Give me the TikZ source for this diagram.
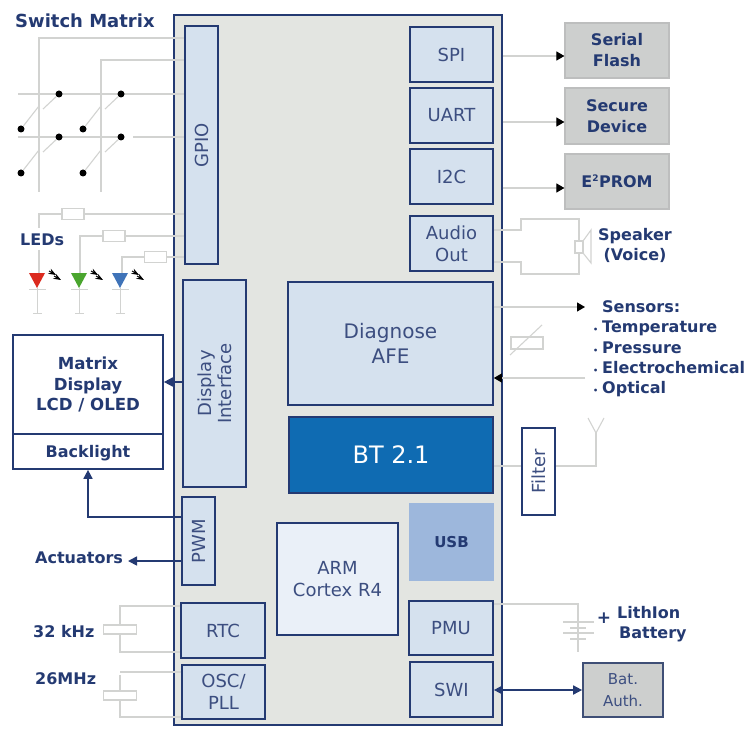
\documentclass[tikz,border=0pt]{standalone}
\usepackage{fontspec}
\setmainfont{DejaVu Sans}
\usetikzlibrary{arrows.meta,shapes}
\definecolor{navy}{HTML}{243A72}
\definecolor{blocktxt}{HTML}{3C4E80}
\definecolor{blockfill}{HTML}{D5E1EE}
\definecolor{chipfill}{HTML}{E3E5E1}
\definecolor{extfill}{HTML}{CDCFCE}
\definecolor{wiregray}{HTML}{D2D3D1}
\definecolor{ledred}{HTML}{DB2A1E}
\definecolor{ledgreen}{HTML}{4AA52E}
\definecolor{ledblue}{HTML}{3F73B8}
\tikzstyle{chip}=[rectangle,draw=navy,line width=1.5pt,fill=chipfill,inner sep=0pt]
\tikzstyle{block}=[rectangle,draw=navy,line width=1.7pt,fill=blockfill,text=blocktxt,inner sep=0pt,align=center,font=\fontsize{18}{22}\selectfont]
\tikzstyle{ext}=[rectangle,draw=extfill!92!black,line width=1.2pt,fill=extfill,text=navy,inner sep=0pt,align=center,font=\fontsize{16}{21}\selectfont\bfseries]
\tikzstyle{lbl}=[text=navy,inner sep=0pt,align=center,font=\fontsize{16}{20}\selectfont\bfseries]
\tikzstyle{wire}=[draw=wiregray,line width=1.1pt]
\tikzstyle{part}=[rectangle,draw=wiregray,line width=1.1pt,fill=white,inner sep=0pt]
\tikzstyle{swdot}=[circle,fill=black,inner sep=0pt,minimum size=7pt]
\tikzstyle{sig}=[draw=navy,line width=1.7pt,>={Triangle[length=9pt,width=9pt]}]
\tikzstyle{feed}=[-{Triangle[black,length=8pt,width=9pt]},draw=wiregray,line width=1.1pt]
\begin{document}
\begin{tikzpicture}[x=1pt,y=-1pt]
\useasboundingbox (0,0) rectangle (747,738);
\node[chip,minimum width=328,minimum height=710] (Chip) at (338,370) {};
\node[block,minimum width=33,minimum height=238] (GPIO) at (201.5,145) {\rotatebox{90}{GPIO}};
\node[block,minimum width=83,minimum height=55] (SPI) at (451.5,54.5) {SPI};
\node[block,minimum width=83,minimum height=55] (UART) at (451.5,115.5) {UART};
\node[block,minimum width=83,minimum height=55] (I2C) at (451.5,176.5) {I2C};
\node[block,minimum width=83,minimum height=55] (Audio) at (451.5,243.5) {Audio\\Out};
\node[block,minimum width=63,minimum height=207] (Disp) at (214.5,383.5) {\rotatebox{90}{\shortstack{Display\\Interface}}};
\node[block,minimum width=205,minimum height=123,font=\fontsize{20}{25}\selectfont] (AFE) at (390.5,343.5) {Diagnose\\AFE};
\node[block,minimum width=204,minimum height=76,fill={rgb,255:red,15;green,107;blue,178},text=white,font=\fontsize{24}{28}\selectfont] (BT) at (391,455) {BT 2.1};
\node[block,minimum width=33,minimum height=87,fill=white] (Filter) at (538.5,471.5) {\rotatebox{90}{Filter}};
\node[block,minimum width=33,minimum height=88] (PWM) at (198.5,541) {\rotatebox{90}{PWM}};
\node[block,minimum width=121,minimum height=112,fill={rgb,255:red,234;green,240;blue,248}] (ARM) at (337.5,579) {ARM\\Cortex R4};
\node[block,minimum width=83,minimum height=76,draw={rgb,255:red,157;green,183;blue,220},fill={rgb,255:red,157;green,183;blue,220},text=navy,font=\fontsize{15}{18}\selectfont\bfseries] (USB) at (451.5,542) {USB};
\node[block,minimum width=84,minimum height=55] (RTC) at (223,630.5) {RTC};
\node[block,minimum width=83,minimum height=54] (OSC) at (223.5,692) {OSC/\\PLL};
\node[block,minimum width=84,minimum height=54] (PMU) at (451,628) {PMU};
\node[block,minimum width=83,minimum height=55] (SWI) at (451.5,689.5) {SWI};
\node[block,minimum width=150,minimum height=99,fill=white,text=navy,font=\fontsize{16.6}{20.5}\selectfont\bfseries] (Matrix) at (88,384.5) {Matrix\\Display\\LCD / OLED};
\node[block,minimum width=150,minimum height=35,fill=white,text=navy,text depth=0pt,font=\fontsize{16}{20}\selectfont\bfseries] (Back) at (88,451.5) {Backlight};
\node[ext,minimum width=104,minimum height=55] (Flash) at (617,50.5) {Serial\\Flash};
\node[ext,minimum width=104,minimum height=56] (Secure) at (617,116) {Secure\\Device};
\node[ext,minimum width=104,minimum height=55] (Prom) at (617,181.5) {E\textsuperscript{\fontsize{9}{9}\selectfont 2}PROM};
\node[ext,draw=navy!70!gray,line width=1.7pt,minimum width=80,minimum height=54,text=blocktxt,font=\fontsize{15}{22}\selectfont] (Auth) at (623,690) {Bat.\\Auth.};
\node[lbl,anchor=west,font=\fontsize{18}{22}\selectfont\bfseries] (SwLbl) at (15,21) {Switch Matrix};
\node[lbl,anchor=west] (LedLbl) at (20,240) {LEDs};
\node[lbl,anchor=west] (ActLbl) at (35,558) {Actuators};
\node[lbl,anchor=west] (KhzLbl) at (33,632) {32 kHz};
\node[lbl,anchor=west] (MhzLbl) at (35,679) {26MHz};
\node[lbl] (SpkLbl) at (635,245.5) {Speaker\\(Voice)};
\node[lbl,anchor=base west] (SenLbl) at (602,312.5) {Sensors:};
\node[lbl,anchor=base west] (TempLbl) at (593,332.5) {\makebox[9pt][l]{\fontsize{8}{8}\selectfont\textbullet}Temperature};
\node[lbl,anchor=base west] (PresLbl) at (593,353) {\makebox[9pt][l]{\fontsize{8}{8}\selectfont\textbullet}Pressure};
\node[lbl,anchor=base west] (ElecLbl) at (593,373.5) {\makebox[9pt][l]{\fontsize{8}{8}\selectfont\textbullet}Electrochemical};
\node[lbl,anchor=base west] (OptLbl) at (593,393.5) {\makebox[9pt][l]{\fontsize{8}{8}\selectfont\textbullet}Optical};
\node[lbl,anchor=west] (LiLbl) at (617,613) {LithIon};
\node[lbl,anchor=west] (BatLbl) at (619,634) {Battery};
\node[lbl,font=\fontsize{17}{20}\selectfont\bfseries] (Plus) at (604,618) {+};
\coordinate (Ca) at (39,192);
\coordinate (Cb) at (101,192);
\coordinate (Ra) at (18,94);
\coordinate (Rb) at (18,137);
\coordinate (Sdg) at (121,137);
\draw[wire] (GPIO.west |- 0,38) -| (Ca);
\draw[wire] (GPIO.west |- 0,60) -| (Cb);
\draw[wire] (Ra) -- (GPIO.west |- Ra);
\draw[wire] (Rb) -- (Sdg);
\draw[wire] (133,137) -- (GPIO.west |- Rb);
\node[swdot] (Sa) at (59,94) {};
\node[swdot] (Sb) at (121,94) {};
\node[swdot] (Sc) at (59,137) {};
\node[swdot] (Sd) at (121,137) {};
\node[swdot] (Se) at (21,129) {};
\node[swdot] (Sf) at (83,129) {};
\node[swdot] (Sg) at (21,173) {};
\node[swdot] (Sh) at (83,173) {};
\draw[wire] (Se) -- (39,106);\draw[wire] (43,109) -- (Sa);
\draw[wire] (Sf) -- (101,106);\draw[wire] (105,109) -- (Sb);
\draw[wire] (Sg) -- (39,150);\draw[wire] (43,152) -- (Sc);
\draw[wire] (Sh) -- (101,150);\draw[wire] (105,152) -- (Sd);
\node[part,minimum width=22,minimum height=11] (Ri) at (73,214) {};
\node[part,minimum width=22,minimum height=11] (Rj) at (114,236) {};
\node[part,minimum width=22,minimum height=11] (Rk) at (155.5,257) {};
\draw[wire] (GPIO.west |- Ri) -- (Ri);\draw[wire] (Ri) -| (39,228);\draw[wire] (39,250) -- (39,273);
\draw[wire] (GPIO.west |- Rj) -- (Rj);\draw[wire] (Rj) -| (80,273);
\draw[wire] (GPIO.west |- Rk) -- (Rk);\draw[wire] (Rk) -| (122,273);
\draw[wire,line width=0.8pt] (37,288) -- (37,313);\draw[wire,line width=0.8pt] (33,313) -- (42,313);\draw[wire,line width=0.8pt] (29,289) -- (46,289);
\draw[wire,line width=0.8pt] (79,288) -- (79,313);\draw[wire,line width=0.8pt] (75,313) -- (84,313);\draw[wire,line width=0.8pt] (71,289) -- (88,289);
\draw[wire,line width=0.8pt] (120,288) -- (120,313);\draw[wire,line width=0.8pt] (116,313) -- (125,313);\draw[wire,line width=0.8pt] (112,289) -- (129,289);
\fill[ledred] (29,273) -- (45,273) -- (37,288) -- cycle;
\fill[ledgreen] (71,273) -- (87,273) -- (79,288) -- cycle;
\fill[ledblue] (112,273) -- (128,273) -- (120,288) -- cycle;
\draw[-Stealth,line width=1pt] (49,271) -- (56,275);\draw[-Stealth,line width=1pt] (54,276) -- (61,280);
\draw[-Stealth,line width=1pt] (91,271) -- (98,275);\draw[-Stealth,line width=1pt] (96,276) -- (103,280);
\draw[-Stealth,line width=1pt] (132,271) -- (139,275);\draw[-Stealth,line width=1pt] (137,276) -- (144,280);
\draw[feed] (Chip.east |- 0,56) -- (Flash.west |- 0,56);
\draw[feed] (Chip.east |- 0,122) -- (Secure.west |- 0,122);
\draw[feed] (Chip.east |- 0,188) -- (Prom.west |- 0,188);
\node[part,minimum width=8,minimum height=12] (Spk) at (579,247) {};
\draw[wire] (583,241) -- (591,230) -- (591,263) -- (583,253);
\draw[wire] (Audio.east |- 0,230) -| (521,219) -| (Spk.north);
\draw[wire] (Audio.east |- 0,262) -| (521,274) -| (Spk.south);
\coordinate (Sout) at (585,307);
\coordinate (Sin) at (585,378);
\draw[feed] (AFE.east |- Sout) -- (Sout);
\draw[feed] (Sin) -- (AFE.east |- Sin);
\node[part,minimum width=32,minimum height=12] (Var) at (527,343) {};
\draw[wire] (510,355) -- (542,325);
\coordinate (Ant) at (596,433);
\draw[wire] (BT.east |- 0,466) -- (Filter.west |- 0,466);
\draw[wire] (Filter.east |- 0,466) -| (Ant);
\draw[wire] (588,418) -- (Ant) -- (604,418);
\draw[sig,->] (PWM.west |- 0,517) -| (Back.south -| 88,0);
\draw[sig,->] (PWM.west |- 0,561) -- (128,561);
\draw[sig,->] (Disp.west |- 0,382) -- (Matrix.east |- 0,382);
\draw[sig,<->] (SWI.east |- 0,690) -- (Auth.west |- 0,690);
\node[part,minimum width=33,minimum height=9] (Xa) at (120,629.5) {};
\node[part,minimum width=33,minimum height=9] (Xb) at (120,695.5) {};
\draw[wire] (RTC.west |- 0,606) -| (Xa.north);
\draw[wire] (RTC.west |- 0,652) -| (Xa.south);
\draw[wire] (OSC.west |- 0,672) -- (120,672);
\draw[wire] (120,675) -- (Xb.north);
\draw[wire] (OSC.west |- 0,717) -| (Xb.south);
\coordinate (Bb) at (578,652);
\draw[wire] (PMU.east |- 0,604) -| (Bb);
\draw[wire] (563,622) -- (594,622);
\draw[wire] (570,628) -- (586,628);
\draw[wire] (563,633) -- (594,633);
\draw[wire] (570,639) -- (586,639);
\end{tikzpicture}
\end{document}
